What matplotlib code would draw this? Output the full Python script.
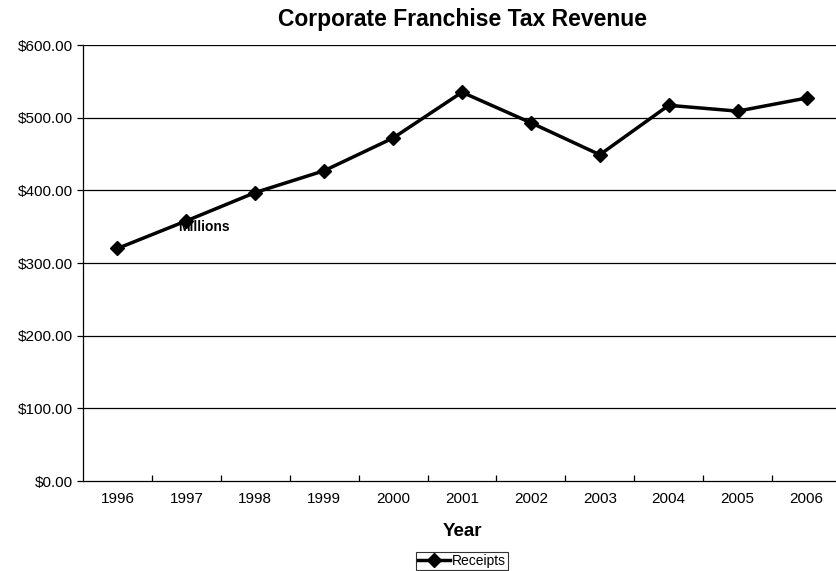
import matplotlib
matplotlib.use("Agg")
from matplotlib import pyplot as plt
from matplotlib.ticker import FuncFormatter, FixedLocator, NullFormatter

years = ["1996", "1997", "1998", "1999", "2000", "2001",
         "2002", "2003", "2004", "2005", "2006"]
receipts = [320, 358, 397, 427, 472, 535, 493, 449, 517, 509, 527]
y_ticks = [0, 100, 200, 300, 400, 500, 600]

plt.rcParams['font.family'] = ['Liberation Sans', 'DejaVu Sans']

fig = plt.figure(figsize=(8.36, 5.71), dpi=100)
fig.patch.set_facecolor('white')
ax = fig.add_axes([83 / 836, 1 - 481 / 571, 758 / 836, 436 / 571])

x = list(range(len(years)))
ax.plot(x, receipts, color='black', lw=2.5, marker='D', markersize=7,
        label='Receipts', zorder=3)

ax.set_xlim(-0.5, len(years) - 0.5)
ax.set_ylim(0, 600)

ax.set_yticks(y_ticks)
ax.yaxis.set_major_formatter(FuncFormatter(lambda v, p: "${:,.2f}".format(v)))
for v in y_ticks[1:]:
    ax.axhline(v, color='black', lw=0.9, zorder=1)

# category axis: ticks between years, labels centred on each year
ax.xaxis.set_major_locator(FixedLocator([i + 0.5 for i in x[:-1]]))
ax.xaxis.set_major_formatter(NullFormatter())
ax.xaxis.set_minor_locator(FixedLocator(x))
ax.set_xticklabels(years, minor=True)
ax.tick_params(axis='x', which='minor', length=0, pad=8, labelsize=11)
ax.tick_params(axis='x', which='major', direction='in', length=4, width=0.9)
ax.tick_params(axis='y', direction='out', length=4, width=0.9, labelsize=11, pad=3)

for s in ['top', 'right']:
    ax.spines[s].set_visible(False)
for s in ['left', 'bottom']:
    ax.spines[s].set_linewidth(0.9)

ax.set_title("Corporate Franchise Tax Revenue", fontsize=16.5, fontweight='bold', pad=14)
ax.set_xlabel("Year", fontsize=13.5, fontweight='bold', labelpad=12.5)

ax.text(1.26, 350, "Millions", fontsize=10, fontweight='bold', ha='center', va='center')

leg = ax.legend(loc='lower center', bbox_to_anchor=(0.5, -0.204), fontsize=10,
                frameon=True, fancybox=False, edgecolor='black', borderpad=0.15,
                handlelength=2.3, handletextpad=0.2, borderaxespad=0)
leg.get_frame().set_linewidth(0.8)

fig.savefig("out.png", dpi=100)
plt.close('all')
